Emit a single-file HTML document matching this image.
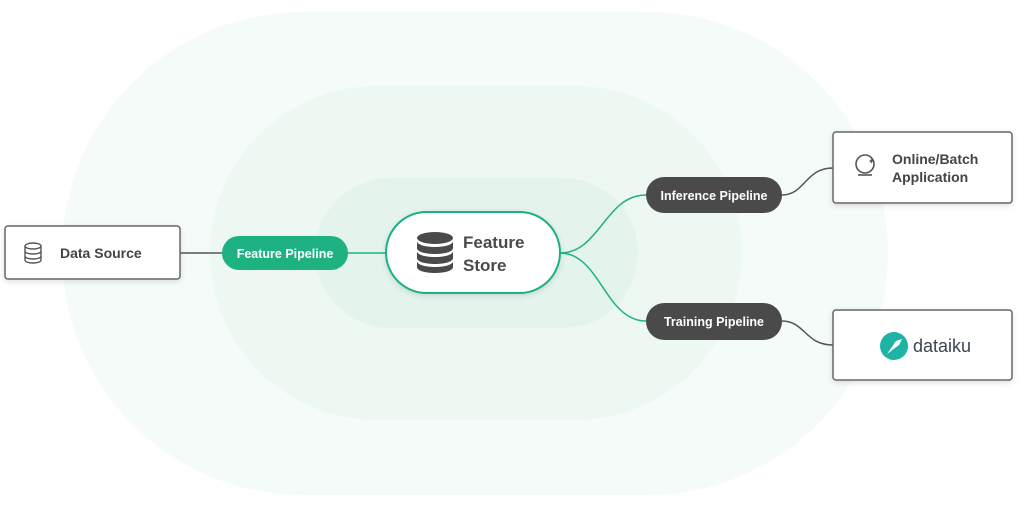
<!DOCTYPE html>
<html><head><meta charset="utf-8"><style>
body{margin:0;background:#fff;}
svg{display:block;font-family:"Liberation Sans",sans-serif;}
</style></head><body>
<svg width="1024" height="512" viewBox="0 0 1024 512">
<defs><filter id="sh" x="-20%" y="-20%" width="140%" height="140%"><feDropShadow dx="0" dy="2" stdDeviation="3" flood-color="#000" flood-opacity="0.12"/></filter></defs>
<rect x="62" y="12" width="826" height="483" rx="241" fill="#f5fbf8"/>
<rect x="210" y="86" width="532" height="334" rx="167" fill="#edf8f2"/>
<rect x="315" y="178" width="323" height="150" rx="75" fill="#e4f4ec"/>
<!-- connectors -->
<line x1="180" y1="253" x2="222" y2="253" stroke="#555" stroke-width="1.5"/>
<line x1="348" y1="253" x2="386" y2="253" stroke="#1eb182" stroke-width="1.5"/>
<path d="M560 253 C600 253 605 195 646 195" fill="none" stroke="#1eb182" stroke-width="1.5"/>
<path d="M560 253 C600 253 605 321 646 321" fill="none" stroke="#1eb182" stroke-width="1.5"/>
<path d="M782 195 C805 195 805 168 833 168" fill="none" stroke="#555" stroke-width="1.5"/>
<path d="M782 321 C805 321 805 345 833 345" fill="none" stroke="#555" stroke-width="1.5"/>
<!-- Data Source -->
<rect x="5" y="226" width="175" height="53" rx="3" fill="#fff" stroke="#666" stroke-width="1.5" filter="url(#sh)"/>
<g fill="none" stroke="#555" stroke-width="1.4">
<ellipse cx="33" cy="246" rx="8" ry="3"/><path d="M25 246v14c0 4 16 4 16 0v-14M25 251c0 4 16 4 16 0M25 256c0 4 16 4 16 0"/></g>
<text x="60" y="258" font-size="14" font-weight="bold" fill="#444">Data Source</text>
<!-- Feature Pipeline -->
<rect x="222" y="236" width="126" height="34" rx="17" fill="#1eb182"/>
<text x="285" y="258" font-size="12.5" font-weight="bold" fill="#fff" text-anchor="middle">Feature Pipeline</text>
<!-- Feature Store -->
<rect x="386" y="212" width="174" height="81" rx="40.5" fill="#fff" stroke="#1eb182" stroke-width="2" filter="url(#sh)"/>
<g fill="#4a4a4a">
<ellipse cx="435" cy="238" rx="18" ry="6"/>
<path d="M417 241c0 8 36 8 36 0v7c0 8-36 8-36 0z"/>
<path d="M417 251c0 8 36 8 36 0v7c0 8-36 8-36 0z"/>
<path d="M417 261c0 8 36 8 36 0v6c0 8-36 8-36 0z"/></g>
<text x="463" y="248" font-size="17" font-weight="bold" fill="#4a4a4a">Feature</text>
<text x="463" y="271" font-size="17" font-weight="bold" fill="#4a4a4a">Store</text>
<!-- Inference / Training -->
<rect x="646" y="177" width="136" height="36" rx="18" fill="#4a4a4a"/>
<text x="714" y="200" font-size="12.5" font-weight="bold" fill="#fff" text-anchor="middle">Inference Pipeline</text>
<rect x="646" y="303" width="136" height="37" rx="18.5" fill="#4a4a4a"/>
<text x="714" y="326" font-size="12.5" font-weight="bold" fill="#fff" text-anchor="middle">Training Pipeline</text>
<!-- Online/Batch -->
<rect x="833" y="132" width="179" height="71" rx="3" fill="#fff" stroke="#666" stroke-width="1.5" filter="url(#sh)"/>
<g fill="none" stroke="#555" stroke-width="1.6"><circle cx="865" cy="164" r="9"/><path d="M858 175h14"/></g>
<text x="868" y="164" font-size="8" fill="#555">✦</text>
<text x="892" y="164" font-size="14" font-weight="bold" fill="#444">Online/Batch</text>
<text x="892" y="182" font-size="14" font-weight="bold" fill="#444">Application</text>
<!-- dataiku -->
<rect x="833" y="310" width="179" height="70" rx="3" fill="#fff" stroke="#666" stroke-width="1.5" filter="url(#sh)"/>
<circle cx="894" cy="346" r="14" fill="#1fb3a5"/>
<path d="M887 354 L896 341 L902 339 L899 345 Z" fill="#fff"/>
<text x="913" y="352" font-size="18" fill="#3b4652">dataiku</text>
</svg>
</body></html>
